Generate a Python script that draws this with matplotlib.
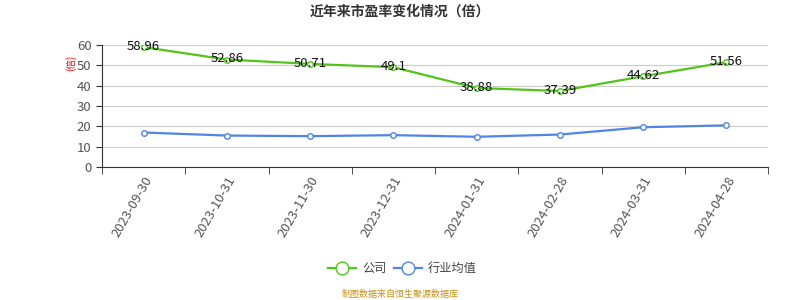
import matplotlib.pyplot as plt

plt.rcParams["font.family"] = ["Noto Sans CJK SC", "DejaVu Sans"]

dates = ["2023-09-30", "2023-10-31", "2023-11-30", "2023-12-31",
         "2024-01-31", "2024-02-28", "2024-03-31", "2024-04-28"]
company_pe = [58.96, 52.86, 50.71, 49.1, 38.88, 37.39, 44.62, 51.56]
industry_pe = [17.0, 15.5, 15.2, 15.7, 14.9, 16.0, 19.6, 20.5]

green = "#52c41a"
blue = "#5085e6"

fig = plt.figure(figsize=(8, 3), dpi=100)
ax = fig.add_axes([0.1275, 0.443, 0.8325, 0.407])

x = list(range(len(dates)))
ax.plot(x, company_pe, color=green, lw=1.6, marker="o", ms=4,
        mfc="white", mec=green, mew=1, label="公司", zorder=3)
ax.plot(x, industry_pe, color=blue, lw=1.6, marker="o", ms=4,
        mfc="white", mec=blue, mew=1, label="行业均值", zorder=3)

for xi, v in zip(x, company_pe):
    ax.annotate(f"{v:g}", (xi, v), xytext=(0, 0.5), textcoords="offset points",
                ha="center", va="center", fontsize=9.5, color="#111111", zorder=4)

ax.set_xlim(-0.5, len(dates) - 0.5)
ax.set_ylim(0, 60)
ax.set_yticks(range(0, 61, 10))
ax.set_xticks(x)
ax.set_xticklabels(dates, rotation=60, ha="right", rotation_mode="anchor",
                   fontsize=9.5, color="#555555")
ax.set_xticks([i - 0.5 for i in range(len(dates) + 1)], minor=True)
ax.tick_params(axis="x", which="major", length=0, pad=5)
ax.tick_params(axis="x", which="minor", length=5, color="#333333")
ax.tick_params(axis="y", length=4, color="#333333", labelsize=9.5, labelcolor="#555555")

ax.grid(axis="y", color="#cccccc", lw=0.8)
ax.set_axisbelow(True)
for s in ["top", "right"]:
    ax.spines[s].set_visible(False)
ax.spines["left"].set_color("#333333")
ax.spines["bottom"].set_color("#333333")

fig.text(0.088, 0.79, "(倍)", color="red", fontsize=7, rotation=90,
         ha="center", va="center")
fig.text(0.5, 0.96, "近年来市盈率变化情况（倍）", ha="center", va="center",
         fontsize=10, fontweight="bold", color="#333333")

fig.legend(loc="center", bbox_to_anchor=(0.503, 0.105), ncol=2, frameon=False,
           fontsize=8.8, handlelength=2.3, columnspacing=0.6, handletextpad=0.5,
           markerscale=2.3, labelcolor="#444444")
fig.text(0.5, 0.017, "制图数据来自恒生聚源数据库", ha="center", va="center",
         fontsize=6.5, color="#c8901a")

fig.savefig("out.png", dpi=100)
